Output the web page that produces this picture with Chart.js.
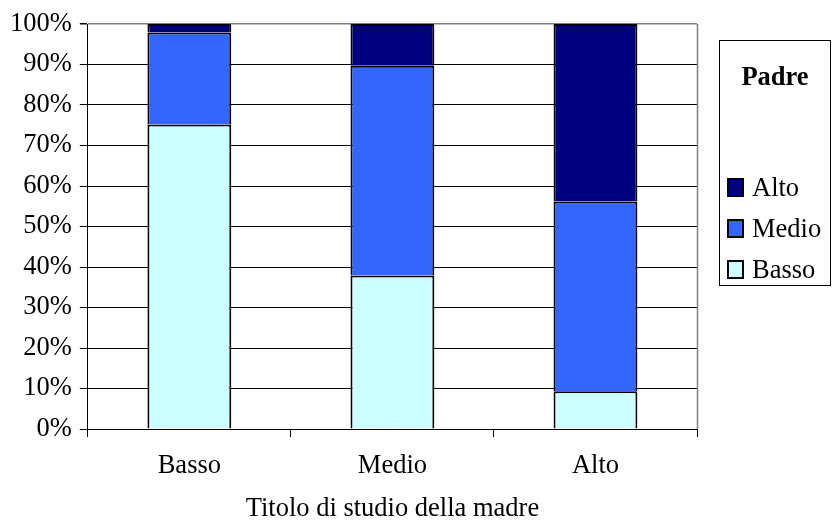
<!DOCTYPE html>
<html>
<head>
<meta charset="utf-8">
<script src="https://cdn.jsdelivr.net/npm/chart.js@4/dist/chart.umd.min.js"></script>
<style>
  html, body { margin: 0; padding: 0; background: #ffffff; }
  #wrap { width: 832px; height: 522px; position: relative; }
</style>
</head>
<body>
<div id="wrap"><canvas id="chart" width="832" height="522"></canvas></div>
<script>
// Titolo di studio della madre (categorie sull'asse x)
const categories = ['Basso', 'Medio', 'Alto'];
// Titolo di studio del padre: quote percentuali per ciascuna categoria
const padreBasso = [75.2, 37.9, 9.3];
const padreMedio = [22.7, 51.8, 46.9];
const padreAlto = [2.1, 10.3, 43.8];
// Valori delle tacche dell'asse y
const yTickValues = [0, 10, 20, 30, 40, 50, 60, 70, 80, 90, 100];

const legendTitle = 'Padre';
const xTitle = 'Titolo di studio della madre';

const serif = "'Liberation Serif', 'Times New Roman', serif";
const FONT_SIZE = 26.5;

// Riquadro della legenda a destra, con titolo in grassetto
const padreLegend = {
  id: 'padreLegend',
  afterDraw(chart) {
    const ctx = chart.ctx;
    const left = 719.5, top = 40.5, right = 830.5, bottom = 285.5;
    ctx.save();
    ctx.strokeStyle = '#000000';
    ctx.lineWidth = 1;
    ctx.strokeRect(left, top, right - left, bottom - top);

    ctx.fillStyle = '#000000';
    ctx.font = 'bold ' + FONT_SIZE + 'px ' + serif;
    ctx.textAlign = 'center';
    ctx.textBaseline = 'middle';
    ctx.fillText(legendTitle, (left + right) / 2, 78);

    ctx.font = FONT_SIZE + 'px ' + serif;
    ctx.textAlign = 'left';
    const items = chart.data.datasets.slice().reverse();
    const rowY = [188, 229, 270];
    items.forEach((ds, i) => {
      const y = rowY[i];
      ctx.fillStyle = ds.backgroundColor;
      ctx.fillRect(728, y - 9, 15, 17);
      ctx.lineWidth = 2;
      ctx.strokeStyle = '#000000';
      ctx.strokeRect(728, y - 9, 15, 17);
      ctx.fillStyle = '#000000';
      ctx.fillText(ds.label, 752, y + 1);
    });
    ctx.restore();
  }
};

// Bordo grigio sul lato destro dell'area del grafico
const plotFrame = {
  id: 'plotFrame',
  beforeDatasetsDraw(chart) {
    const { ctx, chartArea } = chart;
    ctx.save();
    ctx.strokeStyle = '#808080';
    ctx.lineWidth = 1.5;
    const x = Math.round(chartArea.right) + 0.5;
    ctx.beginPath();
    ctx.moveTo(x, chartArea.top);
    ctx.lineTo(x, chartArea.bottom);
    ctx.stroke();
    ctx.restore();
  }
};

const barStyle = {
  borderColor: '#000000',
  borderWidth: 2,
  categoryPercentage: 1,
  barPercentage: 0.413
};

new Chart(document.getElementById('chart'), {
  type: 'bar',
  data: {
    labels: categories,
    datasets: [
      Object.assign({ label: 'Basso', data: padreBasso, backgroundColor: '#CCFFFF' }, barStyle),
      Object.assign({ label: 'Medio', data: padreMedio, backgroundColor: '#3366FF' }, barStyle),
      Object.assign({ label: 'Alto', data: padreAlto, backgroundColor: '#000080' }, barStyle)
    ]
  },
  options: {
    responsive: false,
    animation: false,
    devicePixelRatio: 1,
    layout: { padding: { left: 2, right: 135, top: 24, bottom: 0 } },
    plugins: {
      legend: { display: false },
      tooltip: { enabled: false }
    },
    scales: {
      x: {
        stacked: true,
        offset: true,
        grid: {
          offset: true,
          drawOnChartArea: false,
          drawTicks: true,
          tickLength: 8,
          color: '#000000',
          tickColor: '#000000'
        },
        border: { display: true, color: '#000000', width: 1 },
        ticks: {
          color: '#000000',
          padding: 16,
          font: { family: serif, size: FONT_SIZE, lineHeight: 1.0 }
        },
        title: {
          display: true,
          text: xTitle,
          color: '#000000',
          padding: { top: 0, bottom: 0 },
          font: { family: serif, size: FONT_SIZE, lineHeight: 1.0 }
        }
      },
      y: {
        stacked: true,
        min: 0,
        max: 100,
        afterBuildTicks(scale) {
          scale.ticks = yTickValues.map(v => ({ value: v }));
        },
        grid: {
          color: ctx => (ctx.tick && ctx.tick.value === 100 ? '#808080' : '#000000'),
          lineWidth: ctx => (ctx.tick && ctx.tick.value === 100 ? 1.5 : 1),
          tickColor: '#000000',
          tickLength: 8,
          drawTicks: true
        },
        border: { display: true, color: '#000000', width: 1 },
        ticks: {
          color: '#000000',
          padding: 8,
          font: { family: serif, size: FONT_SIZE, lineHeight: 1.0 },
          callback: v => v + '%'
        }
      }
    }
  },
  plugins: [plotFrame, padreLegend]
});
</script>
</body>
</html>
